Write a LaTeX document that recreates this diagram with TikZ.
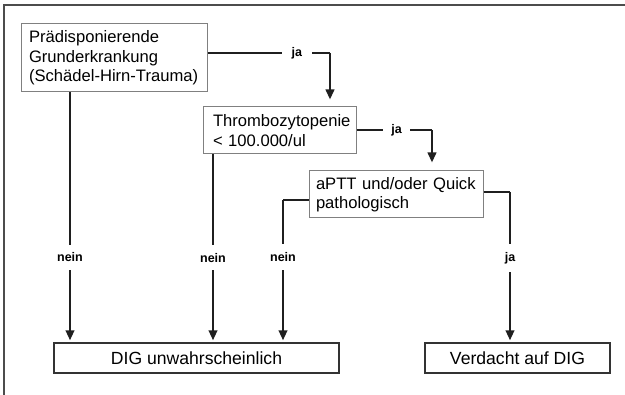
\documentclass[tikz,border=0pt]{standalone}
\usepackage{fontspec}
\setmainfont{Liberation Sans}
\usetikzlibrary{arrows.meta,calc}
\begin{document}
\begin{tikzpicture}[x=1pt,y=-1pt,
  conn/.style={line width=2.2pt,draw=black!88,line cap=butt},
  arr/.style={conn,-{Triangle[width=8.5pt,length=10pt]}},
  lab/.style={fill=white,font=\fontsize{12.5}{14}\selectfont\bfseries,inner xsep=10pt,inner ysep=8pt},
  qbox/.style={draw=black!50,line width=1pt,fill=white,inner xsep=0pt,inner ysep=0pt,
    font=\fontsize{16.6}{19.5}\selectfont,align=left},
  rbox/.style={draw=black!80,line width=1.3pt,fill=white,inner sep=0pt,
    font=\fontsize{17.6}{20}\selectfont,align=center}]
\useasboundingbox (0,0) rectangle (625,395);
\fill[white] (0,0) rectangle (625,395);
\draw[line width=1.8pt,draw=black!70] (4,396) -- (4,5) -- (626,5);
% boxes
\node[qbox,minimum width=186pt,minimum height=68pt,text width=170pt] (b1) at (114,58)
  {Prädisponierende\\Grunderkrankung\\(Schädel-Hirn-Trauma)};
\node[qbox,minimum width=153pt,minimum height=47pt,text width=133pt] (b2) at (279.5,130.5)
  {Thrombozytopenie\\< 100.000/ul};
\node[qbox,minimum width=174pt,minimum height=47pt,text width=160pt] (b3) at (396,194.5)
  {aPTT und/oder Quick\\pathologisch};
\node[rbox,minimum width=285pt,minimum height=30pt] (da) at (196.5,358) {DIG unwahrscheinlich};
\node[rbox,minimum width=185pt,minimum height=30pt] (db) at (517.5,358) {Verdacht auf DIG};
% corner coordinates
\coordinate (c1) at (330,53);
\coordinate (c2) at (432,130);
\coordinate (c3) at (283,200);
\coordinate (c4) at (510,192);
\coordinate (n1) at (70,92);
\coordinate (n2) at (213,154);
% ja connectors
\draw[conn] (b1.east |- c1) -- node[lab,pos=0.73]{ja} (c1);
\draw[arr,shorten >=7pt] (c1) -- (b2.north -| c1);
\draw[conn] (b2.east |- c2) -- node[lab,pos=0.53,inner xsep=8pt]{ja} (c2);
\draw[arr,shorten >=8pt] (c2) -- (b3.north -| c2);
\draw[conn] (b3.east |- c4) -- (c4);
\draw[arr,shorten >=2pt] (c4) -- node[lab,pos=0.44]{ja} (db.north -| c4);
% nein connectors
\draw[conn] (b3.west |- c3) -- (c3);
\draw[arr,shorten >=2pt] (c3) -- node[lab,pos=0.4]{nein} (da.north -| c3);
\draw[arr,shorten >=2pt] (b1.south -| n1) -- node[lab,pos=0.66]{nein} (da.north -| n1);
\draw[arr,shorten >=2pt] (b2.south -| n2) -- node[lab,pos=0.55]{nein} (da.north -| n2);
\end{tikzpicture}
\end{document}
